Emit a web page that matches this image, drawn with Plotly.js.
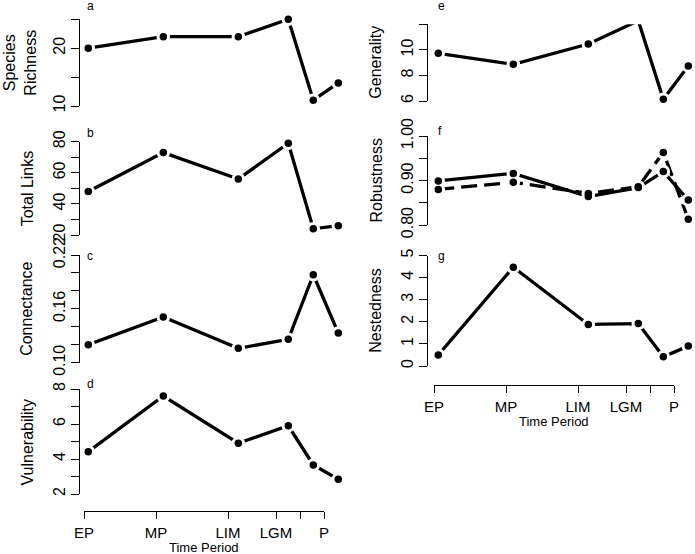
<!DOCTYPE html>
<html><head><meta charset="utf-8">
<script src="https://cdn.plot.ly/plotly-3.0.1.min.js"></script>
<style>html,body{margin:0;padding:0;background:#fff;} #chart{width:695px;height:554px;}</style>
</head><body><div id="chart"></div>
<script>
// ---- data ----
const periodPos = [0, 3, 6, 8, 9, 10];
const periodTickText = ['EP', 'MP', 'LIM', 'LGM', '', 'P'];

const speciesRichness = [20, 22, 22, 25, 11, 14];
const totalLinks = [48, 73, 56, 79, 24, 26];
const connectance = [0.120, 0.151, 0.116, 0.126, 0.198, 0.133];
const vulnerability = [4.42, 7.6, 4.9, 5.9, 3.66, 2.84];
const generality = [9.73, 8.87, 10.46, 12.28, 6.13, 8.74];
const robustnessSolid = [0.899, 0.916, 0.864, 0.884, 0.920, 0.856];
const robustnessDashed = [0.880, 0.896, 0.871, 0.886, 0.963, 0.813];
const nestedness = [0.5, 4.47, 1.88, 1.92, 0.42, 0.9];

const richTicks = [10, 15, 20, 25], richText = ['10', '', '20', ''];
const linkTicks = [20, 30, 40, 50, 60, 70, 80], linkText = ['20', '', '40', '', '60', '', '80'];
const connTicks = [0.10, 0.12, 0.14, 0.16, 0.18, 0.20, 0.22], connText = ['0.10', '', '', '0.16', '', '', '0.22'];
const vulnTicks = [2, 3, 4, 5, 6, 7, 8], vulnText = ['2', '', '4', '', '6', '', '8'];
const genTicks = [6, 8, 10, 12], genText = ['6', '8', '10', ''];
const robTicks = [0.80, 0.85, 0.90, 0.95, 1.00], robText = ['0.80', '', '0.90', '', '1.00'];
const nestTicks = [0, 1, 2, 3, 4, 5], nestText = ['0', '1', '2', '3', '4', '5'];

// ---- layout helpers ----
const W = 695, H = 554;
const FONT = 'Liberation Sans, Arial, Helvetica, sans-serif';
const px = p => p / W;
const py = p => 1 - p / H;

const panels = [
  {ax: 'y',  xa: 'x',  series: [[speciesRichness, 'solid']], ticks: richTicks, text: richText, top: 19.3, bot: 106, axisX: 79.3, title: 'Species<br>Richness', titleX: 20, letter: 'a', letterX: 85, letterY: 6},
  {ax: 'y2', xa: 'x',  series: [[totalLinks, 'solid']], ticks: linkTicks, text: linkText, top: 141.7, bot: 235, axisX: 79.3, title: 'Total Links', titleX: 27, letter: 'b', letterX: 85, letterY: 133},
  {ax: 'y3', xa: 'x',  series: [[connectance, 'solid']], ticks: connTicks, text: connText, top: 255, bot: 362.7, axisX: 79.3, title: 'Connectance', titleX: 27, letter: 'c', letterX: 85, letterY: 256},
  {ax: 'y4', xa: 'x',  series: [[vulnerability, 'solid']], ticks: vulnTicks, text: vulnText, top: 389, bot: 494, axisX: 79.3, title: 'Vulnerability', titleX: 27, letter: 'd', letterX: 85, letterY: 384},
  {ax: 'y5', xa: 'x2', series: [[generality, 'solid']], ticks: genTicks, text: genText, top: 24.3, bot: 101, axisX: 427, title: 'Generality', titleX: 376, letter: 'e', letterX: 436, letterY: 6.5},
  {ax: 'y6', xa: 'x2', series: [[robustnessSolid, 'solid'], [robustnessDashed, '16px,7px']], ticks: robTicks, text: robText, top: 136, bot: 225, axisX: 427, title: 'Robustness', titleX: 376, letter: 'f', letterX: 436, letterY: 131},
  {ax: 'y7', xa: 'x2', series: [[nestedness, 'solid']], ticks: nestTicks, text: nestText, top: 255.5, bot: 366, axisX: 427, title: 'Nestedness', titleX: 376, letter: 'g', letterX: 436, letterY: 256}
];

const traces = [];
const layout = {
  width: W, height: H,
  margin: {l: 0, r: 0, t: 0, b: 0},
  paper_bgcolor: '#fff', plot_bgcolor: 'rgba(0,0,0,0)',
  showlegend: false,
  font: {family: FONT, color: '#000'},
  annotations: [],
  xaxis:  {domain: [px(88.3), px(338.3)], range: [0, 10], visible: false, anchor: 'free', position: 0, fixedrange: true},
  xaxis2: {domain: [px(438.3), px(688.3)], range: [0, 10], visible: false, anchor: 'free', position: 0, fixedrange: true}
};

panels.forEach(p => {
  const key = 'yaxis' + p.ax.slice(1);
  layout[key] = {
    domain: [py(p.bot), py(p.top)],
    range: [p.ticks[0], p.ticks[p.ticks.length - 1]],
    anchor: 'free', position: px(p.axisX),
    tickmode: 'array', tickvals: p.ticks, ticktext: p.text, tickangle: -90,
    ticks: 'outside', ticklen: 8, tickwidth: 1, tickcolor: '#000',
    showline: true, linecolor: '#000', linewidth: 1,
    showgrid: false, zeroline: false, automargin: false, fixedrange: true,
    tickfont: {family: FONT, size: 16, color: '#000'}
  };
  p.series.forEach(s => {
    traces.push({x: periodPos, y: s[0], xaxis: p.xa, yaxis: p.ax, mode: 'lines', cliponaxis: false,
      line: {color: '#000', width: 3.3, dash: s[1]}, hoverinfo: 'skip'});
  });
  p.series.forEach(s => {
    traces.push({x: periodPos, y: s[0], xaxis: p.xa, yaxis: p.ax, mode: 'markers', cliponaxis: false,
      marker: {color: '#fff', size: 13.5}, hoverinfo: 'skip'});
  });
  p.series.forEach(s => {
    traces.push({x: periodPos, y: s[0], xaxis: p.xa, yaxis: p.ax, mode: 'markers', cliponaxis: false,
      marker: {color: '#000', size: 7.5}, hoverinfo: 'skip'});
  });
  layout.annotations.push({
    text: p.title, textangle: -90, xref: 'paper', yref: 'paper',
    x: px(p.titleX), y: py((p.top + p.bot) / 2), xanchor: 'center', yanchor: 'middle',
    showarrow: false, font: {family: FONT, size: 16, color: '#000'}
  });
  layout.annotations.push({
    text: p.letter, xref: 'paper', yref: 'paper',
    x: px(p.letterX), y: py(p.letterY), xanchor: 'left', yanchor: 'middle',
    showarrow: false, font: {family: FONT, size: 12, color: '#000'}
  });
});

// bottom time-period axes
const bottomAxes = [
  {xa: 'x3', ya: 'y8', left: 84, right: 324, y: 510.7, labelX: 204, labelY: 547.5},
  {xa: 'x4', ya: 'y9', left: 434, right: 674, y: 385, labelX: 554, labelY: 421.5}
];
bottomAxes.forEach(b => {
  layout['xaxis' + b.xa.slice(1)] = {
    domain: [px(b.left), px(b.right)], range: [periodPos[0], periodPos[periodPos.length - 1]],
    anchor: 'free', position: py(b.y),
    tickmode: 'array', tickvals: periodPos, ticktext: periodTickText,
    ticks: 'outside', ticklen: 7, tickwidth: 1, tickcolor: '#000', ticklabelstandoff: 1,
    showline: true, linecolor: '#000', linewidth: 1,
    showgrid: false, zeroline: false, automargin: false, fixedrange: true,
    tickfont: {family: FONT, size: 15, color: '#000'}
  };
  layout['yaxis' + b.ya.slice(1)] = {domain: [0, 0.02], visible: false, anchor: b.xa, fixedrange: true};
  traces.push({x: [], y: [], xaxis: b.xa, yaxis: b.ya, mode: 'markers', hoverinfo: 'skip'});
  layout.annotations.push({
    text: 'Time Period', xref: 'paper', yref: 'paper', x: px(b.labelX), y: py(b.labelY),
    xanchor: 'center', yanchor: 'middle', showarrow: false, borderpad: 0,
    font: {family: FONT, size: 13, color: '#000'}
  });
});

Plotly.newPlot('chart', traces, layout, {staticPlot: true, displayModeBar: false});
</script>
</body></html>
